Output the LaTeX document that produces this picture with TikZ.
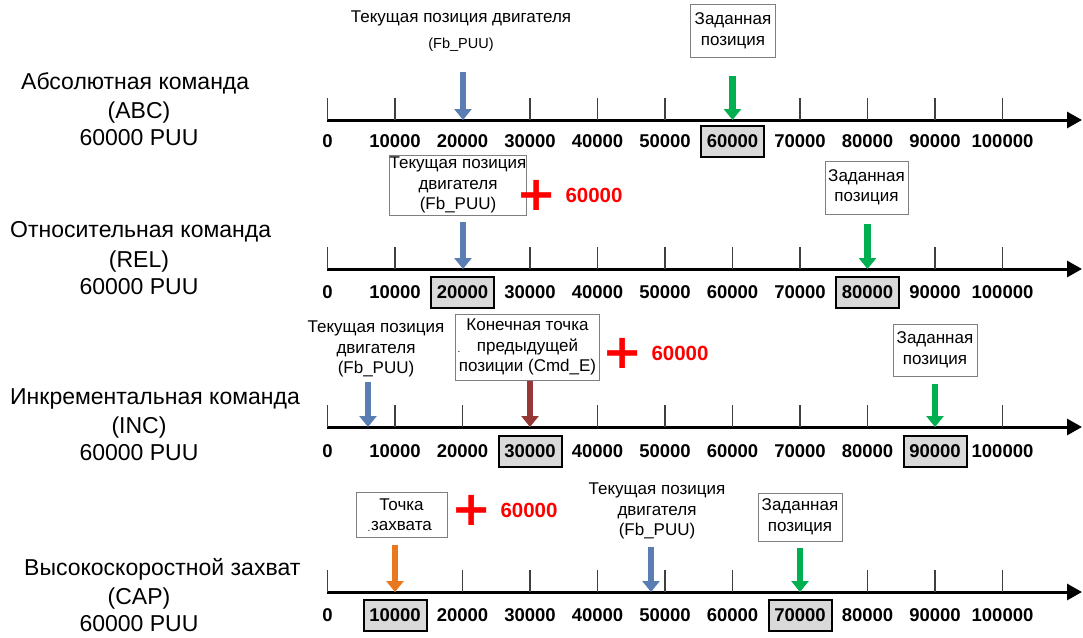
\documentclass[tikz,border=0pt]{standalone}
\usepackage{fontspec}
\setmainfont{Liberation Sans}
\newfontfamily\plusfont{DejaVu Sans}
\usepackage{xcolor}
\usetikzlibrary{arrows.meta,positioning}
\definecolor{fbblue}{HTML}{5A7EB4}
\definecolor{setgreen}{HTML}{00B050}
\definecolor{prevbrown}{HTML}{953735}
\definecolor{caporange}{HTML}{E8771E}
\definecolor{boxgray}{HTML}{7F7F7F}
\definecolor{hlgray}{HTML}{D9D9D9}
\definecolor{tickgray}{HTML}{404040}
\newcommand{\puuval}[1]{\ifnum#1=0 0\else#10000\fi}

\begin{document}
\begin{tikzpicture}[
  x=1pt, y=-1pt,
  txt/.style={font=\fontsize{17}{20.5}\selectfont, align=center, inner sep=0pt},
  box/.style={txt, draw=boxgray, fill=white, line width=0.9pt},
  cmd/.style={font=\fontsize{23}{27}\selectfont, inner sep=0pt},
  lbl/.style={font=\fontsize{18.5}{20}\bfseries\selectfont, inner sep=0pt},
  hl/.style={lbl, draw=black, fill=hlgray, line width=2pt, minimum width=63pt, minimum height=31pt},
  plussign/.style={font=\fontsize{48}{48}\plusfont\bfseries\selectfont, text=red, inner sep=0pt},
  addval/.style={font=\fontsize{20.5}{22}\bfseries\selectfont, text=red, inner sep=0pt},
  ruler/.style={line width=3pt, -{Triangle[width=16pt,length=15pt]}},
  tickmark/.style={draw=tickgray, line width=1.2pt},
  mk/.style={line width=6.5pt, -{Triangle[width=17pt,length=11pt]}}
]
\useasboundingbox (0,0) rectangle (1083,637);

% scales
\foreach \ay in {120,269,427,592} {
  \draw[ruler] (327,\ay) -- (1082,\ay);
  \foreach \k in {0,...,10}
    \draw[tickmark] ({327.5+67.5*\k},\ay) -- ++(0,-22);
}

% ABC
\node[cmd, anchor=west] (absname) at (21,83) {Абсолютная команда};
\node[cmd, align=center] (absunit) at (139,123.5) {(ABC)\\60000 PUU};
\foreach \k in {0,...,5,7,8,9,10}
  \node[lbl] (a\k) at ({327.5+67.5*\k},141) {\puuval{\k}};
\node[hl] (a6) at (732.5,141) {60000};
\node[txt] (fb1) at (461,31) {Текущая позиция двигателя\\[6pt]{\fontsize{14.5}{16}\selectfont(Fb\_PUU)}};
\node[box, minimum width=85pt, minimum height=53pt] (set1) at (733,31) {Заданная\\позиция};
\coordinate (tipfb1) at (463,120);
\coordinate (tipset1) at (732.5,120);
\draw[mk, fbblue, shorten <=20pt] (fb1.south -| tipfb1) -- (tipfb1);
\draw[mk, setgreen, shorten <=18pt] (set1.south -| tipset1) -- (tipset1);

% REL
\node[cmd, anchor=west] (relname) at (10,232) {Относительная команда};
\node[cmd, align=center] (relunit) at (139,272.5) {(REL)\\60000 PUU};
\foreach \k in {0,1,3,4,5,6,7,9,10}
  \node[lbl] (b\k) at ({327.5+67.5*\k},292) {\puuval{\k}};
\node[hl] (b2) at (462.5,292) {20000};
\node[hl] (b8) at (867.5,292) {80000};
\node[box, minimum width=131pt, minimum height=60pt] (fb2) at (458,185) {Текущая позиция\\двигателя\\(Fb\_PUU)};
\node[plussign] (pl2) at (537,195) {+};
\node[addval, right=8pt of pl2] (add2) {60000};
\node[box, minimum width=83pt, minimum height=53pt] (set2) at (866.5,187.5) {Заданная\\позиция};
\coordinate (tipfb2) at (463,269);
\coordinate (tipset2) at (867.5,269);
\draw[mk, fbblue, shorten <=7pt] (fb2.south -| tipfb2) -- (tipfb2);
\draw[mk, setgreen, shorten <=10pt] (set2.south -| tipset2) -- (tipset2);

% INC
\node[cmd, anchor=west] (incname) at (10,399) {Инкрементальная команда};
\node[cmd, align=center] (incunit) at (139,438.5) {(INC)\\60000 PUU};
\foreach \k in {0,1,2,4,5,6,7,8,10}
  \node[lbl] (c\k) at ({327.5+67.5*\k},451) {\puuval{\k}};
\node[hl] (c3) at (530,451) {30000};
\node[hl] (c9) at (935,451) {90000};
\node[txt] (fb3) at (376,349) {Текущая позиция\\двигателя\\(Fb\_PUU)};
\node[box, minimum width=144pt, minimum height=66pt] (prev3) at (527.5,347) {Конечная точка\\предыдущей\\позиции (Cmd\_E)};
\node[txt, font=\fontsize{10}{10}\selectfont] (dot3) at (459,352) {.};
\node[plussign] (pl3) at (623,353) {+};
\node[addval, right=8pt of pl3] (add3) {60000};
\node[box, minimum width=84pt, minimum height=52pt] (set3) at (935,350) {Заданная\\позиция};
\coordinate (tipfb3) at (368,427);
\coordinate (tipprev3) at (530,427);
\coordinate (tipset3) at (935,427);
\draw[mk, fbblue, shorten <=5pt] (fb3.south -| tipfb3) -- (tipfb3);
\draw[mk, prevbrown, shorten <=1pt] (prev3.south -| tipprev3) -- (tipprev3);
\draw[mk, setgreen, shorten <=8pt] (set3.south -| tipset3) -- (tipset3);

% CAP
\node[cmd, anchor=west] (capname) at (24,569) {Высокоскоростной захват};
\node[cmd, align=center] (capunit) at (139,610) {(CAP)\\60000 PUU};
\foreach \k in {0,2,3,4,5,6,8,9,10}
  \node[lbl] (d\k) at ({327.5+67.5*\k},615) {\puuval{\k}};
\node[hl] (d1) at (395,615) {10000};
\node[hl] (d7) at (800,615) {70000};
\node[box, minimum width=91pt, minimum height=45pt] (cap4) at (401.5,514.5) {Точка\\захвата};
\node[txt, font=\fontsize{10}{10}\selectfont] (dot4) at (369,531) {.};
\node[plussign] (pl4) at (472,510) {+};
\node[addval, right=8pt of pl4] (add4) {60000};
\node[txt] (fb4) at (657,511) {Текущая позиция\\двигателя\\(Fb\_PUU)};
\node[box, minimum width=84pt, minimum height=48pt] (set4) at (800,517) {Заданная\\позиция};
\coordinate (tipcap4) at (395,592);
\coordinate (tipfb4) at (651,592);
\coordinate (tipset4) at (800,592);
\draw[mk, caporange, shorten <=8pt] (cap4.south -| tipcap4) -- (tipcap4);
\draw[mk, fbblue, shorten <=8pt] (fb4.south -| tipfb4) -- (tipfb4);
\draw[mk, setgreen, shorten <=7pt] (set4.south -| tipset4) -- (tipset4);
\end{tikzpicture}
\end{document}
